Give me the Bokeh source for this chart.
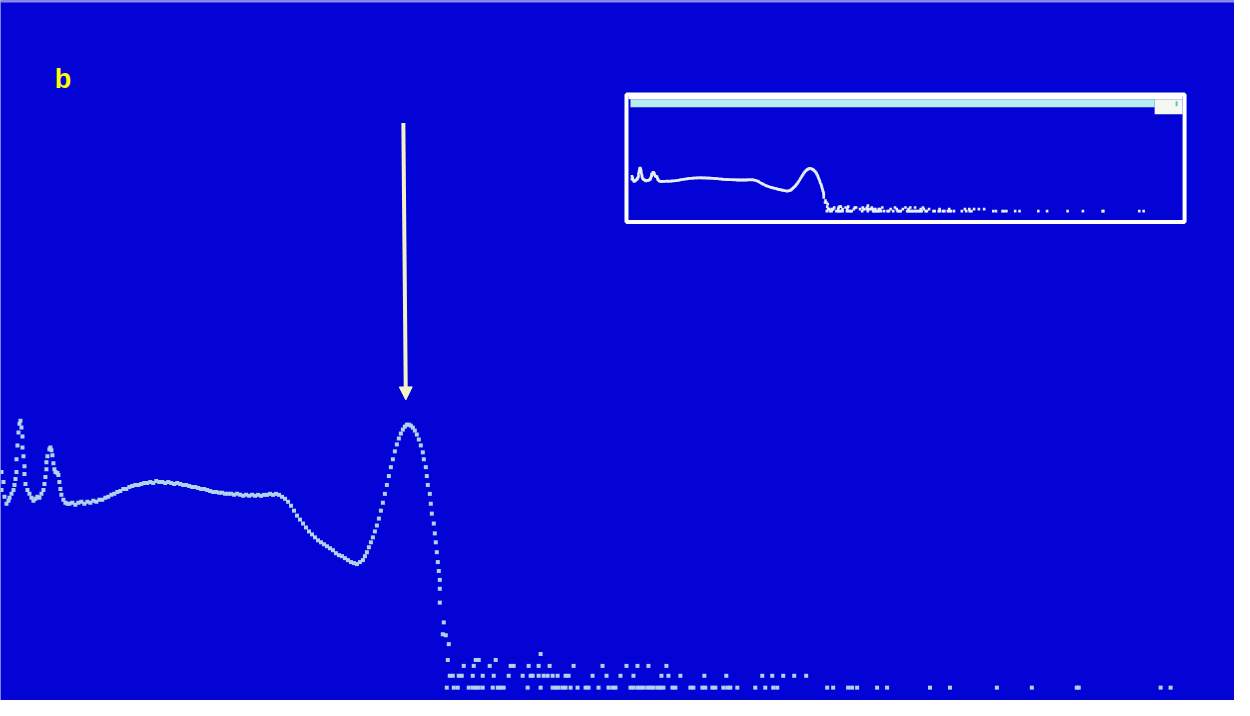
from bokeh.plotting import figure
from bokeh.models import Range1d, BoxAnnotation, Label, Arrow, NormalHead
from bokeh.embed import file_html
from bokeh.resources import INLINE

# ---------------- data (x = channel, y = signal height) ----------------
curve_x = [5, 5, 7, 8, 10, 12, 13, 15, 17, 18, 19, 20, 20, 21, 22, 23, 24, 25, 26, 26, 27, 28, 28, 29,
           31, 33, 35, 37, 39, 41, 43, 45, 47, 48, 49, 50, 50, 51, 53, 54, 55, 56, 57, 58, 59, 61, 62,
           63, 64, 65, 67, 69, 71,
           73, 76, 79, 82, 85, 88, 91, 94, 97, 100, 103, 106, 109, 112, 115, 118, 121, 124, 127, 130,
           133, 136, 139, 142, 145, 148, 151, 154, 157, 160, 163, 166, 169, 172, 175, 178, 181, 184,
           187, 190, 193, 196, 199, 202, 205, 208, 211, 214, 217, 220, 223, 226, 229, 232, 235, 238,
           241, 244, 247, 250, 253, 256, 259, 262, 265, 268, 271, 274, 277, 280, 283, 286, 289,
           292, 295, 298, 301, 304, 307, 310, 313, 316, 319, 322, 325, 328, 331, 334, 337, 340, 343,
           346, 349, 352, 355, 358, 361, 364, 367, 369, 371, 373, 375, 377, 379, 381, 383, 385, 387,
           389, 391, 393, 395, 397, 399, 401, 403, 405, 407, 409, 411, 413, 415, 417, 419, 421, 423,
           425, 427, 428, 430, 431, 432, 434, 435, 436, 438, 439, 440, 441, 442, 443, 444, 444, 444,
           448, 447, 450, 453]
curve_y = [231, 213, 221, 206, 199, 202, 205, 209, 213, 218, 224, 231, 244, 258, 271, 280, 283, 276,
           267, 256, 247, 237, 229, 219, 213, 209, 205, 202, 204, 206, 205, 209, 213, 219, 226, 234,
           241, 247, 254, 256, 253, 248, 240, 234, 231, 230, 228, 221, 214, 208, 203, 200, 199,
           199, 200, 198, 200, 201, 199, 201, 200, 202, 201, 203, 203, 205, 206, 208, 209, 211, 212,
           214, 214, 216, 217, 218, 218, 219, 220, 220, 221, 220, 222, 221, 221, 220, 221, 220, 219,
           220, 219, 218, 218, 217, 216, 216, 215, 214, 214, 213, 212, 211, 211, 210, 210, 209, 209,
           209, 208, 209, 208, 207, 208, 207, 208, 207, 208, 207, 208, 208, 209, 208, 209, 208, 206,
           204,
           201, 197, 192, 187, 183, 179, 175, 171, 168, 165, 162, 160, 158, 156, 154, 152, 149, 147,
           146, 144, 142, 140, 139, 138, 140, 142, 146, 150, 155, 160, 165, 171, 177, 184, 192, 200,
           209, 218, 227, 236, 244, 252, 259, 265, 270, 274, 277, 279, 279, 278, 276, 273, 269, 264,
           258, 251, 244, 236, 227, 218, 209, 199, 189, 179, 169, 160, 150, 140, 131, 122, 113, 99,
           79, 67, 66, 57]

noise_x_47 = [545]
noise_x_41 = [452, 480, 483, 500]
noise_x_35 = [468, 478, 494, 515, 518, 533, 543, 554, 578, 607, 631, 642, 653, 671]
noise_x_25 = [454, 457, 463, 466, 477, 487, 498, 513, 527, 535, 537, 543, 548, 552, 557, 562, 570,
              573, 597, 611, 625, 638, 666, 673, 685, 709, 731, 767, 777, 788, 799, 811]
noise_x_13 = [451, 458, 462, 473, 477, 480, 483, 487, 497, 502, 505, 508, 532, 545, 557, 560, 563,
              567, 570, 575, 582, 590, 593, 603, 613, 617, 620, 635, 638, 642, 645, 648, 652, 655,
              658, 662, 665, 668, 677, 680, 695, 698, 707, 710, 717, 720, 728, 732, 735, 742, 760,
              770, 778, 782, 832, 838, 853, 857, 862, 882, 892, 935, 955, 1002, 1037, 1082, 1084,
              1166, 1176]
noise_levels = [47, 41, 35, 25, 13]

panel_label = "b"

# ---------------- styling ----------------
BG = "#0303D6"
DOT = "#AFD3EC"
INSET_DOT = "#E6EEF6"
ARROW_C = "#F4F1C6"

all_x = list(curve_x)
all_y = list(curve_y)
for lvl, xs in zip(noise_levels, [noise_x_47, noise_x_41, noise_x_35, noise_x_25, noise_x_13]):
    all_x += xs
    all_y += [lvl] * len(xs)

W, H = 1234, 700
p = figure(width=W, height=H, x_range=Range1d(4, 1240), y_range=Range1d(0, 708),
           output_backend="svg", toolbar_location=None, min_border=0,
           x_axis_type=None, y_axis_type=None,
           background_fill_color=BG, border_fill_color=BG, outline_line_color=None)
p.grid.visible = False

# main scatter
p.scatter(all_x, all_y, marker="square", size=4, fill_color=DOT, line_color=None)

# inset: same data through compressed extra ranges
a, b = 634.25, 0.4377      # inset x placement (in main x units)
c, d = 492.9, 0.1617       # inset y placement (in main y units)
p.extra_x_ranges = {"ix": Range1d((4 - a) / b, (1240 - a) / b)}
p.extra_y_ranges = {"iy": Range1d((0 - c) / d, (708 - c) / d)}
p.scatter(all_x, all_y, marker="square", size=2.6, fill_color=INSET_DOT, line_color=None,
          x_range_name="ix", y_range_name="iy")

# inset frame
p.add_layout(BoxAnnotation(left=631, right=1190, bottom=484, top=613,
                           fill_alpha=0, line_color="white", line_alpha=1, line_width=4))
p.quad(left=[633], right=[1188], bottom=[608], top=[612], fill_color="white", line_color=None)
p.quad(left=[635], right=[1160], bottom=[600], top=[608], fill_color="#B6EEEE", line_color=None)
p.quad(left=[1160], right=[1188], bottom=[593], top=[608], fill_color="#F4F8F0", line_color=None)
p.quad(left=[1181], right=[1183], bottom=[601], top=[606], fill_color="#50C8C8", line_color=None)

# top edge line
p.quad(left=[4], right=[1240], bottom=[706], top=[708], fill_color="#8C8CE4", line_color=None)

# arrow
p.add_layout(Arrow(end=NormalHead(size=13, fill_color=ARROW_C, line_color=ARROW_C),
                   x_start=407.5, y_start=584, x_end=410, y_end=304,
                   line_color=ARROW_C, line_width=4))

# panel label
p.add_layout(Label(x=66.5, y=629, text=panel_label, text_color="#FFFF00",
                   text_font="Liberation Sans", text_font_style="bold",
                   text_font_size="27px", text_align="center", text_baseline="alphabetic"))

open("out.html", "w").write(file_html(p, INLINE))
